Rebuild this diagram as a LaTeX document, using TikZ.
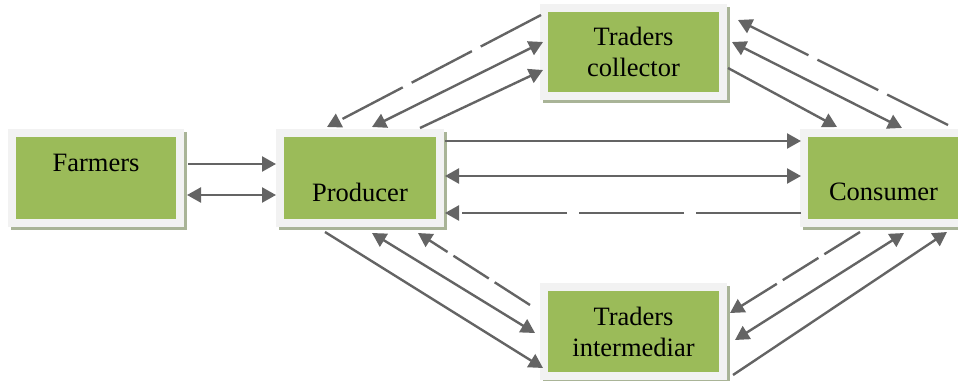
\documentclass[tikz,border=0pt]{standalone}
\usepackage{fontspec}
\setmainfont{Liberation Serif}
\usetikzlibrary{arrows.meta,calc}
\definecolor{boxgreen}{HTML}{9BBB59}
\definecolor{framegray}{HTML}{F2F2F2}
\definecolor{shadowcol}{HTML}{A9B497}
\definecolor{arrowgray}{HTML}{646464}
\begin{document}
\begin{tikzpicture}[x=1pt,y=-1pt,
  boxtext/.style={font=\fontsize{26.5}{31}\selectfont, text=black, align=center},
  box/.style={draw=framegray, line width=8pt, fill=boxgreen, inner sep=0pt, boxtext,
    preaction={draw=shadowcol, fill=shadowcol, line width=8pt, transform canvas={shift={(3pt,-3pt)}}}},
  conn/.style={draw=arrowgray, line width=2.4pt, -{Triangle[length=14pt,width=15pt]}},
  both/.style={draw=arrowgray, line width=2.4pt, {Triangle[length=14pt,width=15pt]}-{Triangle[length=14pt,width=15pt]}},
  hdash/.style={dash pattern=on 105pt off 12pt},
  ddash/.style={dash pattern=on 68pt off 10pt},
  sdash/.style={dash pattern=on 42pt off 7pt}
]
\useasboundingbox (0,0) rectangle (958,380);

\node[box, minimum width=168pt, minimum height=90pt,
  label={[boxtext, yshift=15pt]center:Farmers}] (farm) at (96,178) {};
\node[box, minimum width=160pt, minimum height=90pt,
  label={[boxtext, yshift=-14pt]center:Producer}] (prod) at (360,178) {};
\node[box, minimum width=179pt, minimum height=88pt] (tc) at (633.5,52) {Traders\\collector};
\node[box, minimum width=159pt, minimum height=90pt,
  label={[boxtext, yshift=-14pt]center:Consumer}] (cons) at (883.5,178) {};
\node[box, minimum width=179pt, minimum height=89pt] (ti) at (633.5,331.5) {Traders\\intermediar};

% Farmers - Producer
\draw[conn] ($(farm.north east)+(4,35)$) -- ($(prod.north west)+(0,35)$);
\draw[both] ($(farm.north east)+(3,66)$) -- ($(prod.north west)+(0,66)$);

% Producer - Consumer
\draw[conn] ($(prod.north east)+(1,12)$) -- ($(cons.north west)+(1,12)$);
\draw[both] ($(prod.north east)+(1,47)$) -- ($(cons.north west)+(1,47)$);
\draw[conn, hdash] ($(cons.north west)+(1,84)$) -- ($(prod.north east)+(1,84)$);

% Producer - Traders collector
\draw[conn, ddash] ($(tc.north west)+(1,11)$) -- ($(prod.north west)+(51,-2)$);
\draw[both] ($(tc.north west)+(3,38)$) -- ($(prod.north west)+(96,-2)$);
\draw[conn] ($(prod.north west)+(144,-1)$) -- ($(tc.north west)+(3,66)$);

% Traders collector - Consumer
\draw[conn, ddash] ($(cons.north west)+(148,-4)$) -- ($(tc.north east)+(11,16)$);
\draw[both] ($(tc.north east)+(5,38)$) -- ($(cons.north west)+(102,-1)$);
\draw[conn] ($(tc.north east)+(1,64)$) -- ($(cons.north west)+(37,-2)$);

% Producer - Traders intermediar
\draw[conn] ($(prod.south west)+(49,5)$) -- ($(ti.north west)+(3,85)$);
\draw[both] ($(prod.south west)+(96,6)$) -- ($(ti.north west)+(-5,50)$);
\draw[conn, sdash] ($(ti.north west)+(-10,22)$) -- ($(prod.south west)+(142,6)$);

% Traders intermediar - Consumer
\draw[conn, sdash] ($(cons.south west)+(60,5)$) -- ($(ti.north east)+(3,30)$);
\draw[both] ($(cons.south west)+(104,6)$) -- ($(ti.north east)+(8,57)$);
\draw[conn] ($(ti.north east)+(6,92)$) -- ($(cons.south west)+(147,5)$);
\end{tikzpicture}
\end{document}
